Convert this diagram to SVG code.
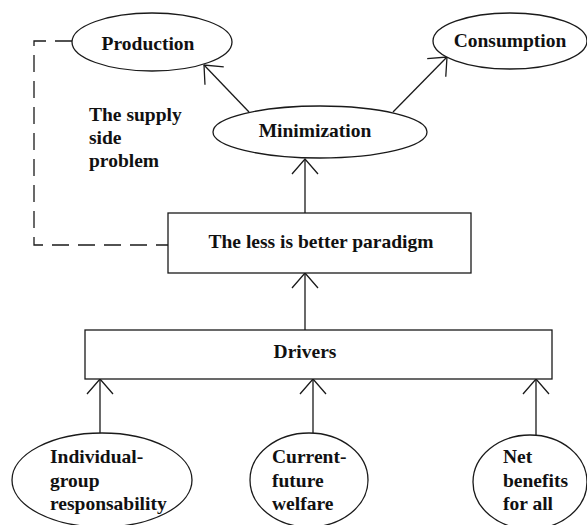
<svg xmlns="http://www.w3.org/2000/svg" width="587" height="525" viewBox="0 0 587 525">
<style>
.shape{fill:#fff;stroke:#1a1a1a;stroke-width:1.3}
.conn{fill:none;stroke:#1a1a1a;stroke-width:1.3}
.dash{fill:none;stroke:#1a1a1a;stroke-width:1.3;stroke-dasharray:17 9}
text{font-family:"Liberation Serif","Times New Roman",serif;font-weight:bold;font-size:19.5px;fill:#111}
.c{text-anchor:middle}
</style>
<defs>
<marker id="arr" viewBox="-16 -15 18 30" refX="0" refY="0" markerWidth="18" markerHeight="30" markerUnits="userSpaceOnUse" orient="auto">
<path d="M-15,-13 L0,0 L-15,13" fill="none" stroke="#1a1a1a" stroke-width="1.3"/>
</marker>
</defs>
<rect width="587" height="525" fill="#fff"/>
<g id="connectors">
<path class="dash" d="M72,41 H34 V245 H168"/>
<line class="conn" x1="249" y1="112" x2="204" y2="65" marker-end="url(#arr)"/>
<line class="conn" x1="393" y1="112" x2="447" y2="57" marker-end="url(#arr)"/>
<line class="conn" x1="305" y1="213" x2="305" y2="159" marker-end="url(#arr)"/>
<line class="conn" x1="305" y1="330" x2="305" y2="273" marker-end="url(#arr)"/>
<line class="conn" x1="100" y1="433" x2="100" y2="379" marker-end="url(#arr)"/>
<line class="conn" x1="313" y1="433" x2="313" y2="379" marker-end="url(#arr)"/>
<line class="conn" x1="536" y1="435" x2="536" y2="379" marker-end="url(#arr)"/>
</g>
<g id="production">
<ellipse class="shape" cx="152" cy="42" rx="80" ry="29"/>
<text class="c" x="148" y="50">Production</text>
</g>
<g id="consumption">
<ellipse class="shape" cx="510" cy="41" rx="77" ry="28"/>
<text class="c" x="510" y="47">Consumption</text>
</g>
<g id="supply-label">
<text x="89" y="121">The supply</text>
<text x="89" y="144">side</text>
<text x="89" y="167">problem</text>
</g>
<g id="minimization">
<ellipse class="shape" cx="320" cy="132" rx="107" ry="26"/>
<text class="c" x="315" y="137">Minimization</text>
</g>
<g id="paradigm">
<rect class="shape" x="168" y="213" width="303" height="60"/>
<text class="c" x="321" y="248">The less is better paradigm</text>
</g>
<g id="drivers">
<rect class="shape" x="85" y="330" width="467" height="49"/>
<text class="c" x="305" y="358">Drivers</text>
</g>
<g id="individual">
<ellipse class="shape" cx="102" cy="480" rx="90" ry="47"/>
<text x="50" y="463">Individual-</text>
<text x="50" y="487">group</text>
<text x="50" y="510">responsability</text>
</g>
<g id="current">
<ellipse class="shape" cx="309" cy="480" rx="59" ry="47"/>
<text x="272" y="463">Current-</text>
<text x="272" y="487">future</text>
<text x="272" y="510">welfare</text>
</g>
<g id="net">
<ellipse class="shape" cx="530" cy="482" rx="57" ry="47"/>
<text x="503" y="463">Net</text>
<text x="503" y="487">benefits</text>
<text x="503" y="510">for all</text>
</g>
</svg>
